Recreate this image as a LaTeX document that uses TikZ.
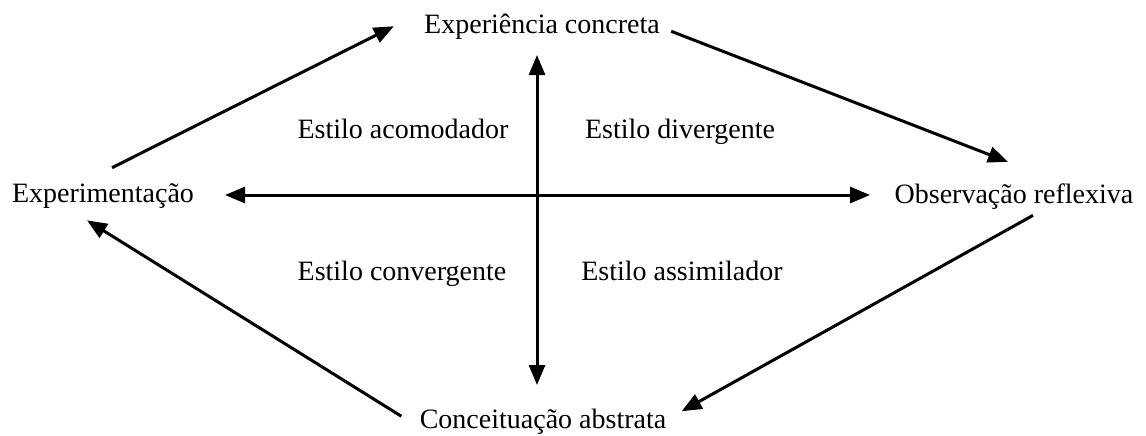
\documentclass[tikz,border=0pt]{standalone}
\usepackage{fontspec}
\setmainfont{Liberation Serif}
\usetikzlibrary{positioning}
\usetikzlibrary{calc}
\usetikzlibrary{arrows.meta}

\begin{document}
\begin{tikzpicture}
			[
				x = 0.5pt, y = -0.5pt,
				mystage/.style = {inner sep = 0pt, anchor = base, font = \fontsize{14}{16}\selectfont},
				mystyle/.style = {inner sep = 0pt, anchor = base, font = \fontsize{14}{16}\selectfont},
				myarrow/.style = {-{Triangle[length = 10pt, width = 8pt]}, line width = 1.5pt},
				myaxis/.style = {{Triangle[length = 10pt, width = 8pt]}-{Triangle[length = 10pt, width = 8pt]}, line width = 1.5pt}
			]
			\useasboundingbox (0,0) rectangle (1146,435);
			%
			\node (concreta) [mystage] at (542,33) {Experiência concreta};
			\node (experimentacao) [mystage] at (103,202) {Experimentação};
			\node (observacao) [mystage] at (1014,203) {Observação reflexiva};
			\node (abstrata) [mystage] at (543,428) {Conceituação abstrata};
			%
			\node (acomodador) [mystyle] at (403,138) {Estilo acomodador};
			\node (divergente) [mystyle] at (680,138) {Estilo divergente};
			\node (convergente) [mystyle] at (402,280) {Estilo convergente};
			\node (assimilador) [mystyle] at (682,280) {Estilo assimilador};
			%
			\coordinate (axistop) at (537,55);
			\coordinate (axisbottom) at (537,385);
			\coordinate (axisleft) at (225,195);
			\coordinate (axisright) at (870,195);
			\draw [myaxis] (axistop) -- (axisbottom);
			\draw [myaxis] (axisleft) -- (axisright);
			%
			\draw [myarrow] ([shift = {(9,-15)}]experimentacao.north) -- ([shift = {(-30,0)}]concreta.west);
			\draw [myarrow] ([shift = {(11,5)}]concreta.east) -- ([shift = {(-6,-21)}]observacao.north);
			\draw [myarrow] ([shift = {(19,6)}]observacao.south) -- ([shift = {(15,-10)}]abstrata.east);
			\draw [myarrow] ([shift = {(-18,-5)}]abstrata.west) -- ([shift = {(-16,12)}]experimentacao.south);
			%
		\end{tikzpicture}
\end{document}
